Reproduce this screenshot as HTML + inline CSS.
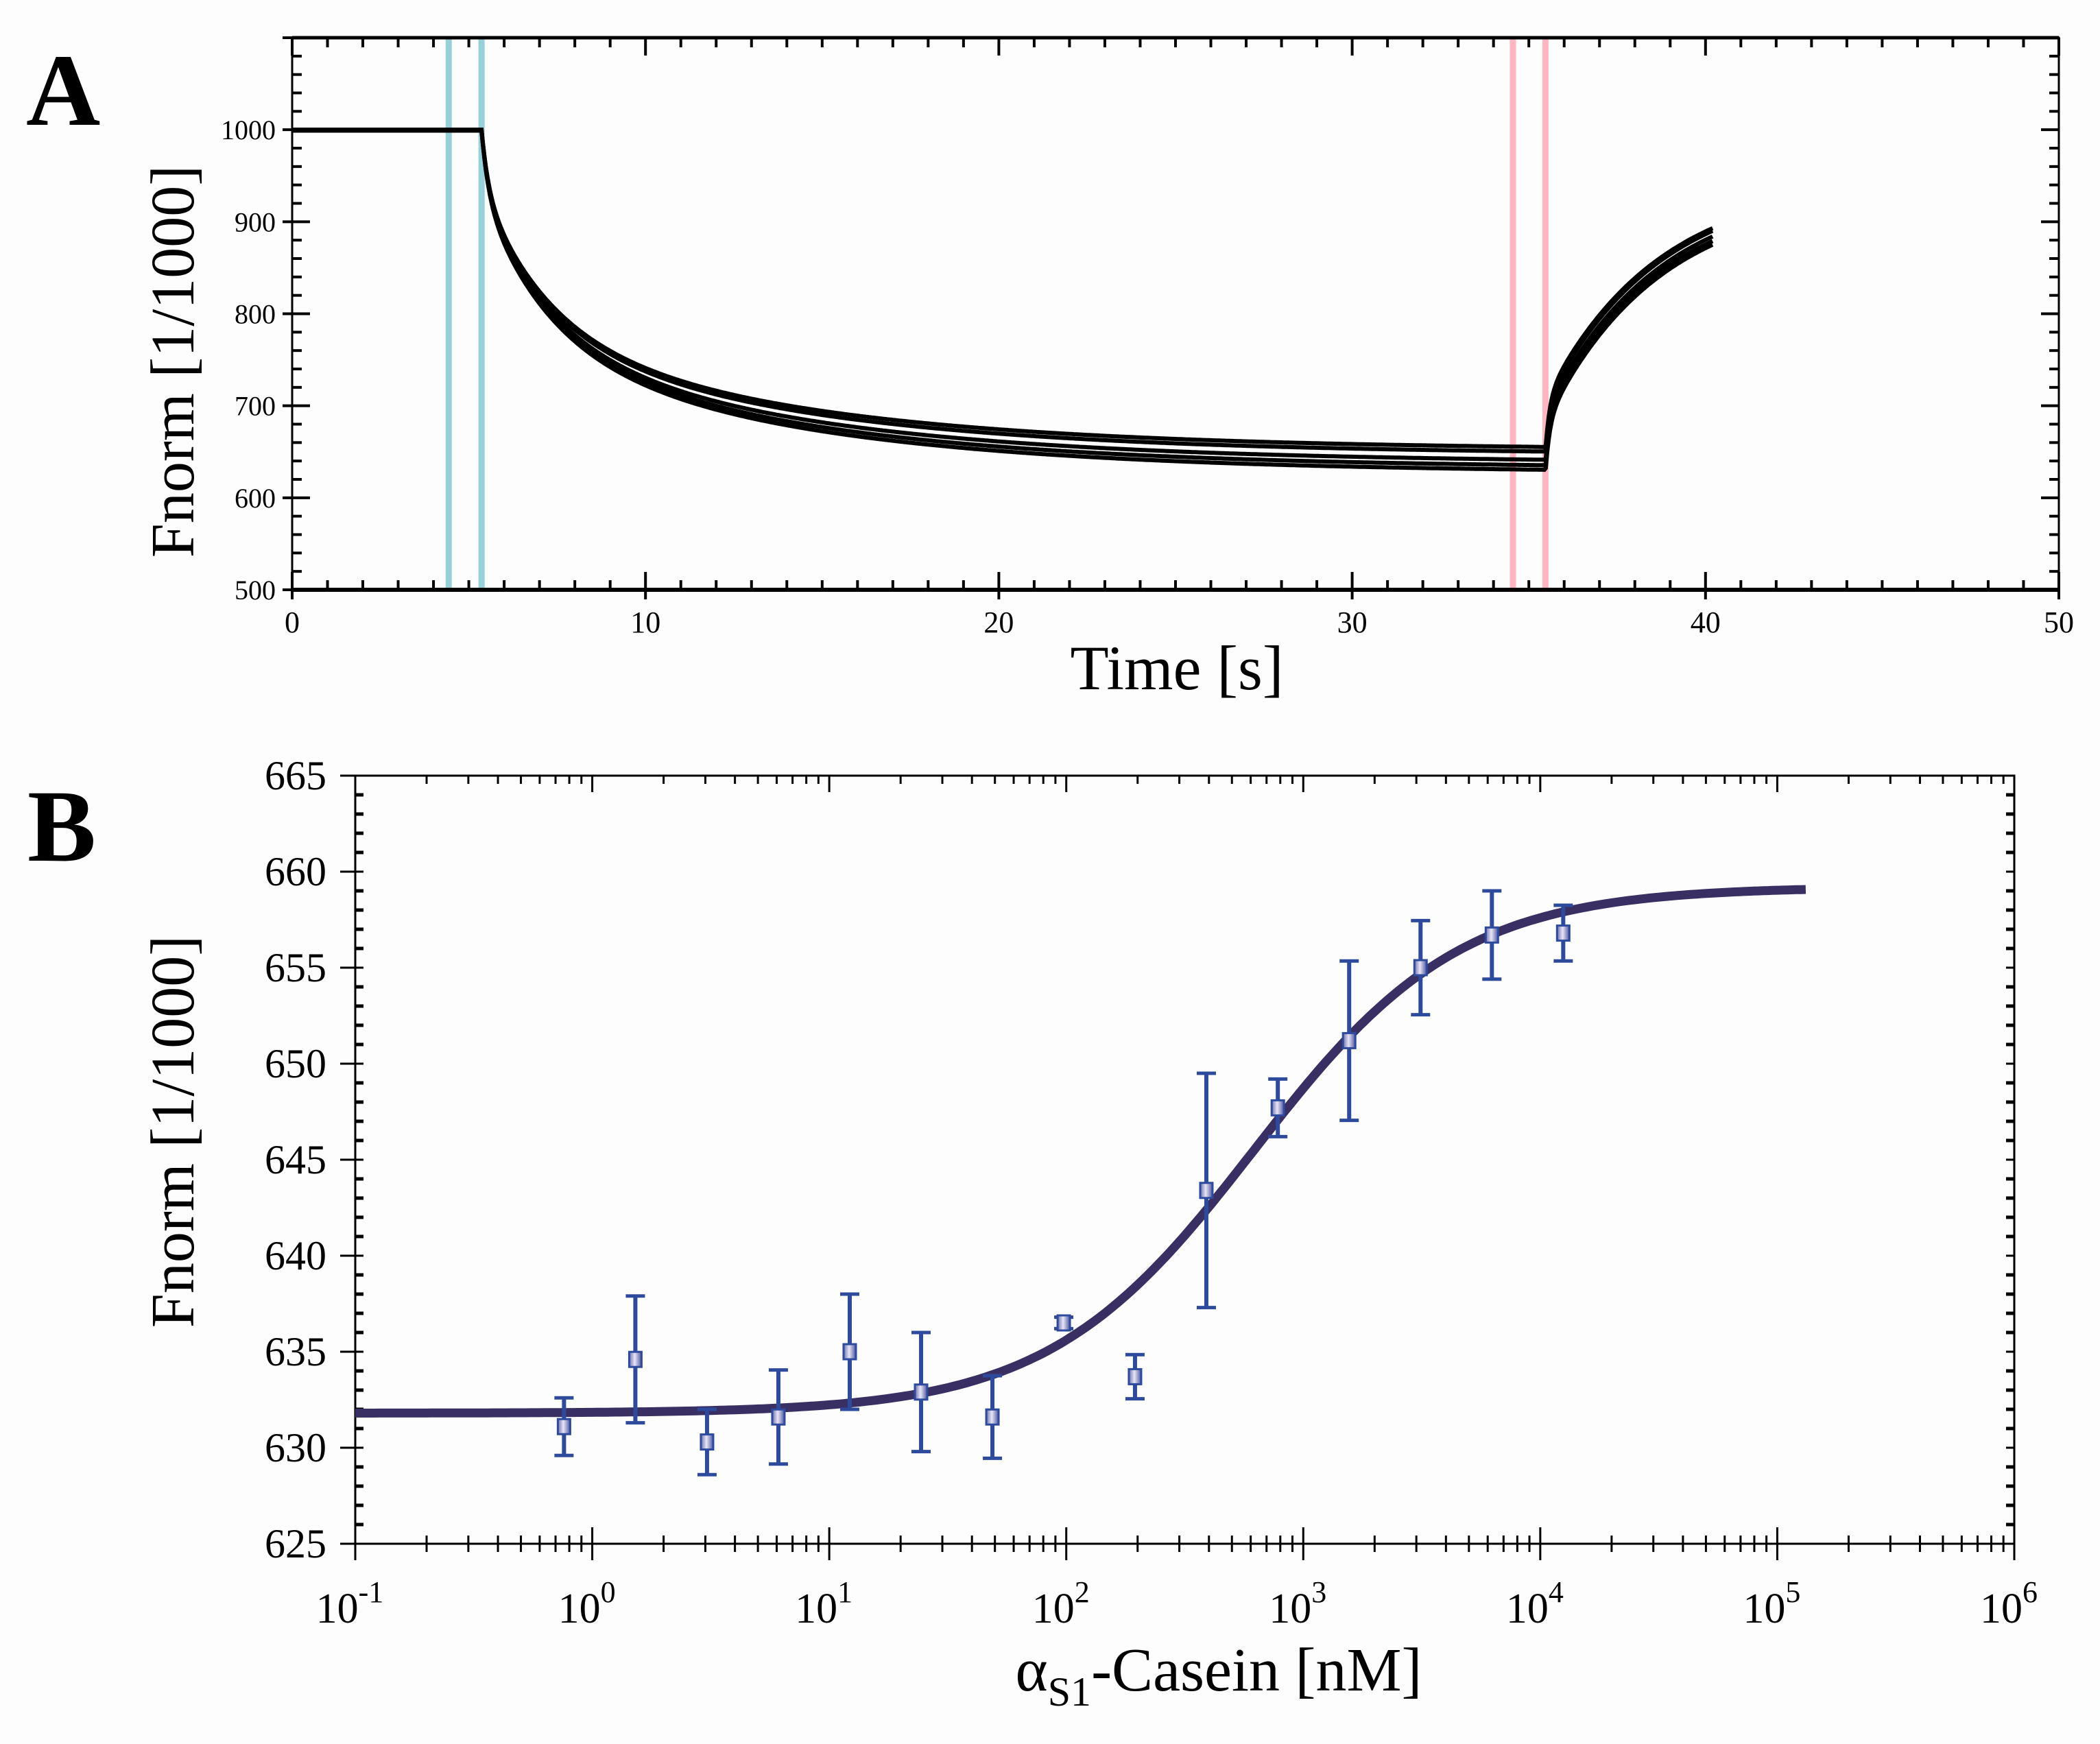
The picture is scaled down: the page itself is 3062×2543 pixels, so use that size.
<!DOCTYPE html>
<html><head><meta charset="utf-8">
<style>
html,body{margin:0;padding:0;background:#fff;}
svg{display:block;font-family:"Liberation Serif","DejaVu Serif",serif;}
</style></head>
<body>
<svg id="fig" width="3062" height="2543" viewBox="0 0 3062 2543" xmlns="http://www.w3.org/2000/svg">
<rect width="3062" height="2543" fill="#fdfdfd"/>
<text x="38" y="182" font-size="150" font-weight="bold">A</text>
<text x="40" y="1255" font-size="150" font-weight="bold">B</text>
<g id="chartA"></g>
<g id="chartB"></g>
</svg>
<script>
// ---------- Chart A data ----------
const aXTicks = [0,10,20,30,40,50];
const aYTicks = [500,600,700,800,900,1000];
const aCyanLines = [4.43, 5.36];
const aPinkLines = [34.55, 35.47];
const aPlateaus = [652, 647, 638, 632, 627];
const aRecoveryEnds = [893, 890, 884, 879, 875];
const aBaseline = [1000, 1000, 999, 1000, 999];
// ---------- Chart B data ----------
const bXTickExps = [-1,0,1,2,3,4,5,6];
const bYTicks = [625,630,635,640,645,650,655,660,665];
const bConc = [0.76,1.52,3.05,6.1,12.2,24.4,48.8,97.6,195,390,781,1562,3125,6250,12500];
const bValues = [631.1,634.6,630.3,631.6,635.0,632.9,631.6,636.5,633.7,643.4,647.7,651.2,655.0,656.7,656.8];
const bErrors = [1.5,3.3,1.7,2.45,3.0,3.1,2.15,0.3,1.15,6.1,1.5,4.15,2.45,2.3,1.45];
const bFit = [631.8, 659.2, 620, 1.0]; // bottom, top, Kd(nM), hill

const NS="http://www.w3.org/2000/svg";
function el(tag, attrs, parent){const e=document.createElementNS(NS,tag);for(const k in attrs)e.setAttribute(k,attrs[k]);parent.appendChild(e);return e;}

// ---------- Chart A ----------
(function(){
  const g=document.getElementById('chartA');
  const L=426,R=3002,T=55,B=860;
  const x=t=>L+(t/50)*(R-L);
  const y=v=>B-(v-500)/600*(B-T);
  aCyanLines.forEach(t=>{const l=el('line',{x1:x(t),x2:x(t),y1:T,y2:B,stroke:'#96d0d8','stroke-width':9},g);
    });
  aPinkLines.forEach(t=>{const l=el('line',{x1:x(t),x2:x(t),y1:T,y2:B,stroke:'#ffb6c1','stroke-width':9},g);
    });
  aPlateaus.forEach((p,i)=>{
    const base=aBaseline[i], end=aRecoveryEnds[i];
    const t0=5.36,t1=35.47,tEnd=40.2;
    const amp=(end-p-55)/(1-Math.exp(-(tEnd-t1)/3.2));
    let d='';
    for(let t=0;t<=tEnd+1e-9;t+=0.04){
      let v;
      if(t<t0) v=base;
      else if(t<t1){const dt=t-t0; v=p+(base-p)*(0.18*Math.exp(-dt/0.2)+0.42*Math.exp(-dt/1.8)+0.40*Math.exp(-dt/8));}
      else {const dt=t-t1; v=p+55*(1-Math.exp(-dt/0.12))+amp*(1-Math.exp(-dt/3.2));}
      d+=(d?'L':'M')+x(t).toFixed(1)+','+y(v).toFixed(1);
    }
    const pth=el('path',{d:d,fill:'none',stroke:'#000','stroke-width':6},g);
    
    
  });
  const fr=el('rect',{x:L,y:T,width:R-L,height:B-T,fill:'none',stroke:'#000','stroke-width':3},g);
  
  el('line',{x1:L,x2:R,y1:B,y2:B,stroke:'#000','stroke-width':6},g);
  el('line',{x1:L,x2:R,y1:T,y2:T,stroke:'#000','stroke-width':5},g);
  for(let t=0;t<=50;t++){
    const maj=t%10===0, len=maj?26:14;
    el('line',{x1:x(t),x2:x(t),y1:B-len,y2:B+(maj?14:0),stroke:'#000','stroke-width':4},g);
    el('line',{x1:x(t),x2:x(t),y1:T,y2:T+len,stroke:'#000','stroke-width':4},g);
  }
  aXTicks.forEach(t=>{const tx=el('text',{x:x(t),y:922,'font-size':44,'text-anchor':'middle'},g);tx.textContent=t;
    });
  for(let v=500;v<=1100;v+=20){
    const maj=v%100===0, len=maj?26:14;
    el('line',{x1:L-(maj?14:0),x2:L+len,y1:y(v),y2:y(v),stroke:'#000','stroke-width':4},g);
    el('line',{x1:R-len,x2:R,y1:y(v),y2:y(v),stroke:'#000','stroke-width':4},g);
  }
  aYTicks.forEach(v=>{const tx=el('text',{x:402,y:y(v)+14,'font-size':40,'text-anchor':'end'},g);tx.textContent=v;
    });
  const xt=el('text',{x:1716,y:1005,'font-size':92,'text-anchor':'middle'},g);xt.textContent='Time [s]';
  
  const yt=el('text',{x:0,y:0,'font-size':90,'text-anchor':'middle',transform:'translate(282,527) rotate(-90)'},g);yt.textContent='Fnorm [1/1000]';
  
})();

// ---------- Chart B ----------
(function(){
  const g=document.getElementById('chartB');
  const L=518,R=2937,T=1131,B=2251;
  const x=c=>L+(Math.log10(c)+1)/7*(R-L);
  const y=v=>B-(v-625)/40*(B-T);
  const fr=el('rect',{x:L,y:T,width:R-L,height:B-T,fill:'none',stroke:'#000','stroke-width':3},g);
  
  for(let v=625;v<=665;v++){
    const maj=v%5===0;
    el('line',{x1:L-(maj?22:0),x2:L+12,y1:y(v),y2:y(v),stroke:'#000','stroke-width':maj?3:5},g);
    el('line',{x1:R-12,x2:R,y1:y(v),y2:y(v),stroke:'#000','stroke-width':maj?3:5},g);
  }
  bYTicks.forEach(v=>{const tx=el('text',{x:476,y:y(v)+20,'font-size':60,'text-anchor':'end'},g);tx.textContent=v;
    });
  for(let e=-1;e<=6;e++){
    el('line',{x1:x(Math.pow(10,e)),x2:x(Math.pow(10,e)),y1:B-24,y2:B+24,stroke:'#000','stroke-width':3},g);
    el('line',{x1:x(Math.pow(10,e)),x2:x(Math.pow(10,e)),y1:T,y2:T+24,stroke:'#000','stroke-width':3},g);
    if(e<6) for(let m=2;m<=9;m++){const xx=x(m*Math.pow(10,e));
      el('line',{x1:xx,x2:xx,y1:B-12,y2:B+12,stroke:'#000','stroke-width':3},g);
      el('line',{x1:xx,x2:xx,y1:T,y2:T+12,stroke:'#000','stroke-width':3},g);}
  }
  bXTickExps.forEach(e=>{const tx=el('text',{x:x(Math.pow(10,e))-8,y:2366,'font-size':62,'text-anchor':'middle'},g);
    
    tx.appendChild(document.createTextNode('10'));
    const s=el('tspan',{'font-size':44,dy:-30},tx);s.textContent=e;});
  let d='';
  const [bot,top,kd,h]=bFit;
  for(let lg=-1;lg<=5.13;lg+=0.02){const c=Math.pow(10,lg);const v=bot+(top-bot)/(1+Math.pow(kd/c,h));
    d+=(d?'L':'M')+x(c).toFixed(1)+','+y(v).toFixed(1);}
  const fit=el('path',{d:d,fill:'none',stroke:'#3a2f63','stroke-width':13},g);
  
  const defs=el('defs',{},g);
  const lg=el('linearGradient',{id:'mk',x1:0,x2:1,y1:0,y2:0},defs);
  el('stop',{offset:'0','stop-color':'#6c6fb5'},lg);el('stop',{offset:'0.45','stop-color':'#e8e6f4'},lg);el('stop',{offset:'1','stop-color':'#4c56a4'},lg);
  bConc.forEach((c,i)=>{
    const xx=x(c), v=bValues[i], e=bErrors[i];
    const eb=el('g',{},g);
    
    el('line',{x1:xx,x2:xx,y1:y(v+e),y2:y(v-e),stroke:'#2e4a9c','stroke-width':6},eb);
    el('line',{x1:xx-14,x2:xx+14,y1:y(v+e),y2:y(v+e),stroke:'#2e4a9c','stroke-width':5},eb);
    el('line',{x1:xx-14,x2:xx+14,y1:y(v-e),y2:y(v-e),stroke:'#2e4a9c','stroke-width':5},eb);
    const r=el('rect',{x:xx-9,y:y(v)-11,width:18,height:22,fill:'url(#mk)',stroke:'#2e4a9c','stroke-width':3},g);
    
  });
  const xt=el('text',{x:1777,y:2465,'font-size':90,'text-anchor':'middle'},g);
  
  xt.appendChild(document.createTextNode('α'));
  const sub=el('tspan',{'font-size':60,dy:22},xt);sub.textContent='S1';
  const rest=el('tspan',{dy:-22},xt);rest.textContent='-Casein [nM]';
  const yt=el('text',{x:0,y:0,'font-size':90,'text-anchor':'middle',transform:'translate(282,1650) rotate(-90)'},g);yt.textContent='Fnorm [1/1000]';
  
})();
</script>
</body></html>
